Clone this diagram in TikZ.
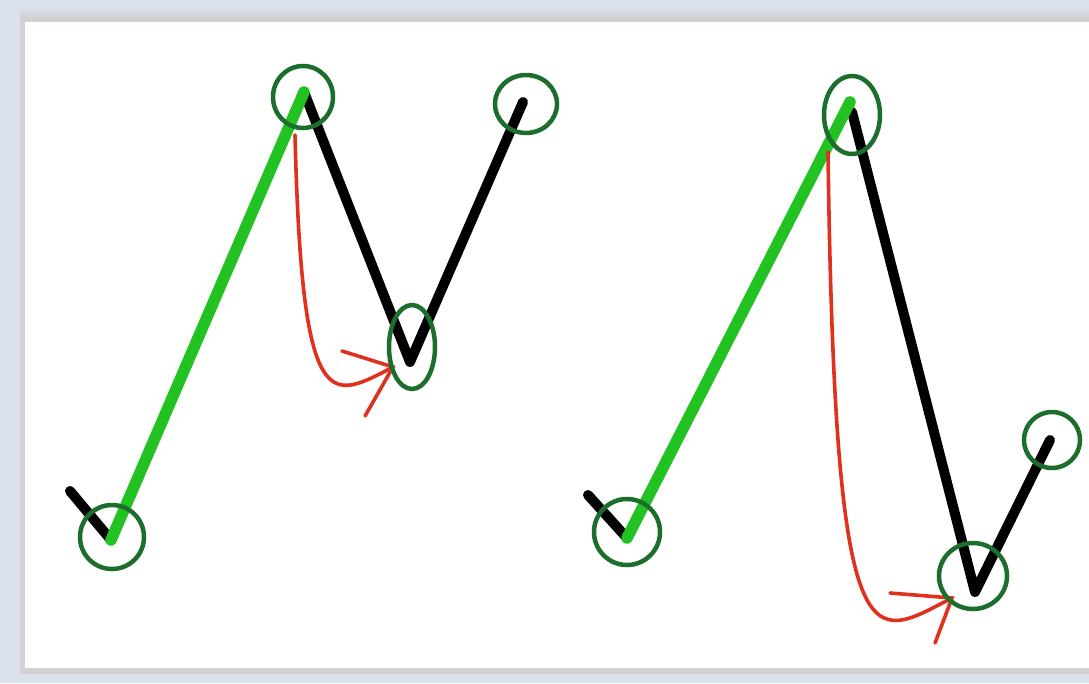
\documentclass[tikz,border=0pt]{standalone}
\usetikzlibrary{shapes.geometric}
\definecolor{bgblue}{HTML}{D9E2EC}
\definecolor{brightgreen}{HTML}{22C222}
\definecolor{ringgreen}{HTML}{1B6E2C}
\definecolor{arrowred}{HTML}{E0301E}
\begin{document}
\begin{tikzpicture}[x=1pt,y=-1pt,
  ring/.style={draw=ringgreen,line width=4.5pt,ellipse,inner sep=0pt,minimum width=#1},
  ring/.default=62pt,
  blackseg/.style={draw=black,line width=10pt,line cap=round,line join=round},
  greenseg/.style={draw=brightgreen,line width=11.5pt,line cap=round},
  redpath/.style={draw=arrowred,line width=3.6pt,line cap=round}]
\useasboundingbox (0,0) rectangle (1089,683);
\fill[bgblue] (0,0) rectangle (1089,683);
\shade[top color=bgblue,bottom color=gray!40] (20,6) rectangle (1089,22);
\fill[gray!35] (20,20) rectangle (1089,674);
\fill[white] (25,22) rectangle (1089,668);
% ---------- left figure ----------
\coordinate (Ltail) at (70,491);
\coordinate (Llow) at (111,540);
\coordinate (Ltop) at (304,92);
\coordinate (Lmid) at (410,362);
\coordinate (Lright) at (523,102);
\draw[blackseg] (Ltail) -- (Llow);
\draw[blackseg] (Ltop) -- (Lmid) -- (Lright);
\draw[greenseg] (Llow) -- (Ltop);
\coordinate (Lstart) at (295,135);
\coordinate (Ltip) at (393,367);
\coordinate (Lbarb1) at (342,351);
\coordinate (Lbarb2) at (365,416);
\draw[redpath] (Lstart) .. controls (302,420) and (330,400) .. (Ltip);
\draw[redpath] (Lbarb1) -- (Ltip) -- (Lbarb2);
\node[ring=64pt,minimum height=64pt] (cLlow) at (112,537) {};
\node[ring=60pt,minimum height=62pt] (cLtop) at (303,97) {};
\node[ring=62pt,minimum height=58pt] (cLright) at (526,104) {};
\node[ring=46pt,minimum height=84pt] (cLmid) at (412,347) {};
% ---------- right figure ----------
\coordinate (Rtail) at (588,495);
\coordinate (Rlow) at (627,538);
\coordinate (Rtop) at (850,102);
\coordinate (Rmid) at (975,592);
\coordinate (Rright) at (1050,440);
\draw[blackseg] (Rtail) -- (Rlow);
\draw[blackseg] (852,112) -- (Rmid) -- (Rright);
\draw[greenseg] (Rlow) -- (Rtop);
\coordinate (Rstart) at (828,152);
\coordinate (Rtip) at (952,598);
\coordinate (Rbarb1) at (890,593);
\coordinate (Rbarb2) at (935,643);
\draw[redpath] (Rstart) .. controls (835,680) and (870,640) .. (Rtip);
\draw[redpath] (Rbarb1) -- (Rtip) -- (Rbarb2);
\node[ring=66pt,minimum height=66pt] (cRlow) at (627,532) {};
\node[ring=56pt,minimum height=78pt] (cRtop) at (852,115) {};
\node[ring=68pt,minimum height=66pt] (cRmid) at (973,576) {};
\node[ring=56pt,minimum height=56pt] (cRright) at (1052,440) {};
\end{tikzpicture}
\end{document}
